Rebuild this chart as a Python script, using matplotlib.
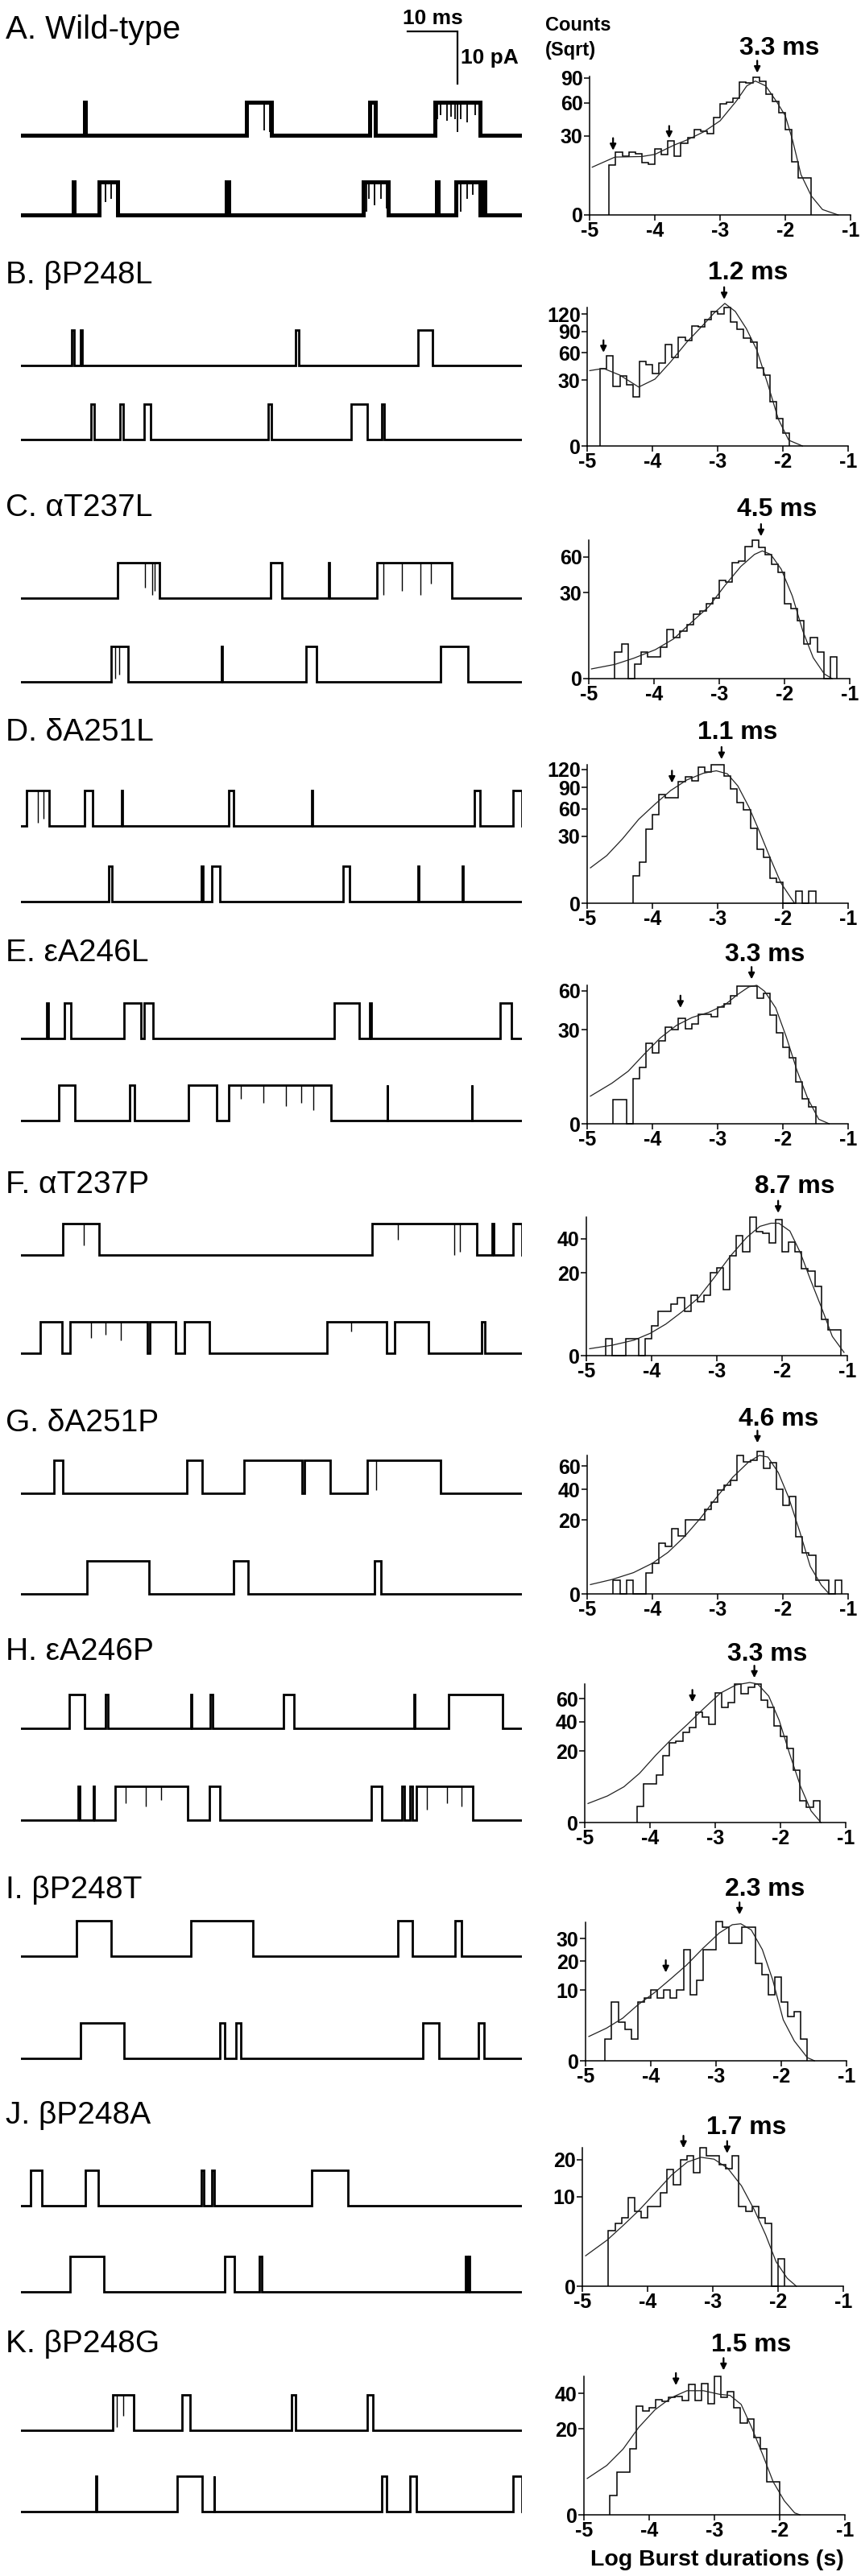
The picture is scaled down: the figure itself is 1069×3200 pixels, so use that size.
import numpy as np
import matplotlib.pyplot as plt

plt.rcParams['font.family'] = ['Liberation Sans', 'DejaVu Sans']

W, H = 1069, 3200

# ---- text ----
row_labels = ['A. Wild-type', 'B. βP248L', 'C. αT237L', 'D. δA251L', 'E. εA246L',
              'F. αT237P', 'G. δA251P', 'H. εA246P', 'I. βP248T', 'J. βP248A', 'K. βP248G']
tau_labels = ['3.3 ms', '1.2 ms', '4.5 ms', '1.1 ms', '3.3 ms', '8.7 ms', '4.6 ms',
              '3.3 ms', '2.3 ms', '1.7 ms', '1.5 ms']
tau_label_x = [-2.09, -2.54, -2.11, -2.70, -2.27, -1.81, -2.06, -2.20, -2.25, -2.48, -2.44]

# ---- histograms: first bin edge (log s), bins 0.1 wide, counts ----
bin_start = [-4.7, -4.8, -4.6, -4.3, -4.6, -4.7, -4.6, -4.2, -4.7, -4.6, -4.6]
counts_a = [11.8, 18.8, 16.3, 18.8, 18, 13.1, 12.2, 20.7, 17.5, 26.1, 16.4, 24.6, 28.7, 34.9,
            33.2, 31.5, 45.3, 58.6, 60.9, 65.4, 84.7, 83.6, 90.9, 85.7, 70, 61.5, 49.9, 34.7,
            13.5, 6.5, 6.5]
counts_b = [41.4, 55.8, 24.3, 33.8, 26.1, 16.4, 48.8, 45.7, 35.9, 47.2, 70.8, 53.5, 81.5, 76.5,
            99.1, 98.2, 110, 124.7, 119.8, 132, 105.8, 93.9, 80.4, 74.5, 41.9, 34.6, 13.5, 5.2,
            1.2]
counts_c = [2.8, 4.8, 0, 0.88, 2.8, 1.87, 1.87, 3.9, 9.8, 6.8, 9.05, 11.8, 16.8, 18.7, 22.6,
            26.5, 38.9, 37.9, 54.3, 56.1, 71, 77.5, 69.6, 62.6, 52.8, 45.6, 22.9, 19.8, 13.5,
            4.8, 6.8, 2.8, 0, 1.87]
counts_d = [4.9, 11.1, 36.7, 52.5, 79.4, 75, 75, 99.5, 107, 101, 124, 116, 128.6, 128.6, 108,
            87.5, 67.9, 58.8, 37.6, 19.3, 13.9, 4.1, 2.9, 0, 0, 0.94, 0, 0.94]
counts_e = [1.97, 1.97, 0, 6.9, 10.9, 21.9, 17, 23.3, 31.9, 30.2, 37.7, 30.9, 33.9, 41, 40.6,
            39.2, 46.1, 48.8, 55.6, 64.6, 64.6, 64.6, 53.5, 57.4, 39.9, 28.1, 20, 14.9, 6, 2.07,
            1.0]
counts_f = [0.82, 0, 0, 0.82, 0.82, 0, 0.82, 2.64, 5.67, 5.67, 7.84, 9.8, 5.67, 10.7, 8.5, 10.7,
            20, 22.7, 12.6, 29.1, 42.1, 31.4, 56.1, 45, 43.8, 37.2, 54.4, 31.4, 37.9, 31.4, 22,
            21.1, 13.9, 3.85, 1.89, 1.89]
counts_g = [0.66, 0, 0.66, 0, 0, 1.66, 3.45, 9.5, 8.4, 15.5, 12.3, 20.3, 20.3, 20.3, 26.3, 30.8,
            39.8, 43.4, 47.3, 70.4, 64.2, 65.7, 74.6, 58.2, 63.3, 40.3, 28.7, 35.1, 12, 6.3, 5.4,
            0.66, 0.66, 0, 0.66]
counts_h = [1.0, 5.9, 5.9, 8.95, 17.4, 24.8, 26.1, 31.8, 35.1, 48, 43.4, 37.9, 65.7, 52.1, 56.2,
            75.3, 65.1, 72, 75.3, 58.8, 51.8, 36.3, 29.3, 21.7, 10.7, 1.9, 0.9, 1.9]
counts_i = [0.97, 6.9, 3.0, 1.94, 0.97, 6.9, 8, 10, 8, 10, 8, 10, 24.9, 8.8, 13.1, 24.9, 24.9,
            39, 36.1, 28, 28, 36.1, 36.1, 19.1, 14.8, 8.8, 14.1, 6.9, 4, 4.9, 0.97]
counts_j = [3.87, 4.96, 5.9, 9.9, 6.97, 5.9, 7.9, 7.9, 10.96, 17, 12.95, 19.9, 21.2, 16.1, 23.9,
            21.2, 21.2, 18.4, 17.2, 21.2, 8, 6.97, 8, 5.9, 4.96, 0, 0.92]
counts_k = [1.03, 4.9, 4.9, 11.9, 32.2, 29.1, 31, 35.9, 34.7, 37.6, 38.1, 35.2, 46, 35.2, 46.7,
            33.5, 51.9, 37.6, 41.1, 31, 22.9, 25, 16.1, 11.9, 2.97, 2.97]

# ---- fitted curves, read point by point ----
fit_a_x = [-4.96, -4.61, -4.2, -4.0, -3.7, -3.5, -3.25, -3.0, -2.75, -2.59, -2.46, -2.3, -2.13,
           -2.0, -1.89, -1.76, -1.6, -1.43, -1.19]
fit_a_y = [10.9, 16.0, 16.3, 17.5, 23.4, 27.0, 33.0, 42.3, 62.0, 79.6, 85.7, 79.6, 61.0, 47.0,
           27.0, 7.8, 1.7, 0.14, 0.0]
fit_b_x = [-4.96, -4.75, -4.5, -4.21, -3.96, -3.72, -3.47, -3.22, -3.06, -2.89, -2.73, -2.56,
           -2.4, -2.23, -2.07, -1.91, -1.7]
fit_b_y = [39.1, 41.4, 34.6, 23.9, 30.8, 48.8, 74.5, 101, 121, 139.9, 124.7, 94.8, 63.6, 26.1,
           5.0, 0.23, 0.0]
fit_c_x = [-4.96, -4.6, -4.31, -3.98, -3.7, -3.41, -3.16, -2.91, -2.67, -2.46, -2.34, -2.21,
           -2.05, -1.88, -1.72, -1.56, -1.39, -1.27]
fit_c_y = [0.38, 0.82, 1.69, 3.4, 6.4, 13.3, 21, 35.4, 51, 62.6, 66.2, 62.6, 48.6, 27.7, 9.3,
           1.78, 0.09, 0.0]
fit_d_x = [-4.95, -4.7, -4.46, -4.21, -3.96, -3.72, -3.47, -3.22, -3.02, -2.85, -2.69, -2.52,
           -2.36, -2.19, -2.03, -1.86, -1.82]
fit_d_y = [8.4, 15.2, 27.7, 47.2, 65.8, 85.2, 102, 113.3, 117.6, 112.3, 92.2, 61.9, 34.6, 13.3,
           2.76, 0.09, 0.0]
fit_e_x = [-4.95, -4.62, -4.37, -4.13, -3.88, -3.63, -3.39, -3.14, -2.89, -2.69, -2.52, -2.4,
           -2.28, -2.11, -1.95, -1.78, -1.62, -1.45, -1.29]
fit_e_y = [2.6, 5.6, 9.4, 16.3, 25, 32.9, 38.4, 42.1, 48, 56.9, 63.7, 65.1, 59.6, 45.6, 25.9, 9.4,
           2.2, 0.07, 0.0]
fit_f_x = [-4.95, -4.6, -4.27, -4.02, -3.78, -3.53, -3.28, -3.04, -2.79, -2.54, -2.34, -2.17,
           -2.05, -1.88, -1.72, -1.56, -1.39, -1.23, -1.05]
fit_f_y = [0.14, 0.32, 0.7, 1.46, 2.92, 5.67, 9.8, 17.8, 29.1, 41, 48.9, 51.3, 51.3, 45.4, 31,
           16.5, 6.5, 1.08, 0.03]
fit_g_x = [-4.95, -4.62, -4.29, -4.0, -3.76, -3.51, -3.26, -3.02, -2.77, -2.52, -2.36, -2.23,
           -2.07, -1.91, -1.74, -1.58, -1.41, -1.29]
fit_g_y = [0.32, 0.76, 1.66, 3.45, 6.35, 12, 21.2, 34, 49.9, 64.2, 70.4, 68.8, 54, 34, 14.1,
           2.78, 0.28, 0.0]
fit_h_x = [-4.95, -4.65, -4.4, -4.16, -3.91, -3.66, -3.42, -3.17, -2.92, -2.68, -2.47, -2.35,
           -2.18, -2.02, -1.86, -1.69, -1.53, -1.38]
fit_h_y = [1.42, 2.78, 5, 9.5, 17.8, 27.7, 38.1, 51.3, 65.7, 74.3, 76.9, 75.3, 62.7, 41, 18.6, 5,
           0.52, 0.0]
fit_i_x = [-4.95, -4.68, -4.43, -4.19, -3.94, -3.69, -3.45, -3.2, -2.95, -2.75, -2.62, -2.46,
           -2.29, -2.13, -1.97, -1.8, -1.6, -1.49]
fit_i_y = [1.19, 2.14, 3.66, 6.4, 9.4, 13.6, 18.5, 25.5, 32.9, 37.3, 37.8, 34.5, 24.9, 13.1, 3.4,
           0.79, 0.02, 0.0]
fit_j_x = [-4.95, -4.62, -4.37, -4.13, -3.88, -3.63, -3.39, -3.18, -2.98, -2.77, -2.56, -2.36,
           -2.19, -2.03, -1.86, -1.72]
fit_j_y = [1.16, 2.66, 4.66, 7.22, 10.96, 15.5, 19.3, 20.8, 20.2, 17.4, 12.6, 7.2, 3.3, 0.75,
           0.08, 0.0]
fit_k_x = [-4.95, -4.65, -4.4, -4.16, -3.91, -3.66, -3.42, -3.17, -2.92, -2.76, -2.59, -2.43,
           -2.26, -2.1, -1.93, -1.77, -1.69]
fit_k_y = [3.58, 6.6, 11.7, 20.7, 29.9, 37.2, 41.7, 41.7, 39.3, 38.6, 33, 20.7, 9.8, 2.97, 0.54,
           0.01, 0.0]

# ---- arrows (x, tip value) ----
arrows_a = [(-4.64, 19.9), (-3.78, 28.1), (-2.43, 96.3)]
arrows_b = [(-4.75, 60.1), (-2.90, 147.8)]
arrows_c = [(-2.36, 82.1)]
arrows_d = [(-3.70, 97.0), (-2.94, 138.9)]
arrows_e = [(-3.57, 45.6), (-2.48, 70.9)]
arrows_f = [(-2.06, 59.5)]
arrows_g = [(-2.39, 83.7)]
arrows_h = [(-3.35, 56.8), (-2.40, 82.0)]
arrows_i = [(-3.77, 15.7), (-2.64, 43.0)]
arrows_j = [(-3.45, 23.9), (-2.78, 22.1)]
arrows_k = [(-3.59, 45.4), (-2.86, 56.5)]

yticks_list = [[0, 30, 60, 90], [0, 30, 60, 90, 120], [0, 30, 60], [0, 30, 60, 90, 120],
               [0, 30, 60], [0, 20, 40], [0, 20, 40, 60], [0, 20, 40, 60], [0, 10, 20, 30],
               [0, 10, 20], [0, 20, 40]]
ytop_list = [91.6, 132, 77.8, 128.6, 65.1, 56.1, 70.4, 75.2, 38.6, 24.0, 51.9]

# ---- single channel traces: openings (start ms, end ms), two sweeps per row ----
trace_a1 = [(12.75, 12.95), (45.1, 50.0), (69.6, 70.8), (82.6, 91.6)]
trace_a2 = [(10.5, 10.7), (15.7, 19.3), (41.1, 41.6), (68.4, 73.4), (82.9, 83.3), (86.8, 91.6),
            (92.3, 92.6)]
trace_b1 = [(10.2, 10.7), (12.0, 12.3), (54.8, 55.5), (79.2, 82.1)]
trace_b2 = [(14.0, 14.7), (19.9, 20.5), (24.6, 26.0), (49.4, 50.0), (65.9, 69.2), (72.1, 72.5)]
trace_c1 = [(19.4, 27.7), (49.8, 52.1), (61.4, 61.6), (71.1, 86.0)]
trace_c2 = [(18.1, 21.5), (40.0, 40.2), (56.9, 59.0), (83.8, 89.2)]
trace_d1 = [(1.2, 5.7), (12.8, 14.4), (20.2, 20.4), (41.5, 42.5), (58.0, 58.2), (90.6, 91.6),
            (98.2, 100.0)]
trace_d2 = [(17.6, 18.2), (36.1, 36.4), (38.2, 39.7), (64.3, 65.7), (79.2, 79.4), (88.1, 88.3)]
trace_e1 = [(5.3, 5.6), (8.7, 10.0), (20.7, 24.0), (24.7, 26.4), (62.6, 67.6), (69.7, 69.9),
            (95.7, 97.9)]
trace_e2 = [(7.6, 10.9), (21.7, 22.8), (33.5, 39.1), (41.5, 62.0), (73.1, 73.2), (90.0, 90.1)]
trace_f1 = [(8.4, 15.6), (70.1, 91.0), (94.0, 94.4), (98.3, 100.0)]
trace_f2 = [(3.9, 8.2), (9.8, 25.3), (25.8, 31.0), (32.7, 37.6), (61.1, 73.0), (74.6, 81.4),
            (92.0, 92.6)]
trace_g1 = [(6.7, 8.5), (33.1, 36.2), (44.6, 56.1), (56.6, 61.8), (69.1, 83.8)]
trace_g2 = [(13.3, 25.7), (42.5, 45.4), (70.6, 71.9)]
trace_h1 = [(9.7, 12.7), (16.9, 17.4), (34.0, 34.2), (37.9, 38.3), (52.5, 54.6), (78.5, 78.6),
            (85.4, 96.1)]
trace_h2 = [(11.5, 11.8), (14.5, 14.7), (18.9, 33.3), (37.7, 39.7), (69.9, 72.1), (76.1, 76.5),
            (77.7, 78.2), (78.9, 90.2)]
trace_i1 = [(11.2, 18.0), (34.0, 46.3), (75.2, 78.1), (86.7, 87.9)]
trace_i2 = [(12.0, 20.7), (39.8, 40.8), (43.0, 44.0), (80.3, 83.5), (91.3, 92.5)]
trace_j1 = [(2.0, 4.2), (13.0, 15.5), (36.1, 36.5), (38.2, 38.7), (58.1, 65.3)]
trace_j2 = [(9.9, 16.6), (40.8, 42.6), (47.6, 48.1), (88.7, 89.1), (89.4, 89.6)]
trace_k1 = [(18.4, 22.5), (32.2, 33.8), (54.0, 54.8), (69.2, 70.3)]
trace_k2 = [(15.1, 15.2), (31.3, 36.2), (38.6, 38.7), (72.0, 73.0), (77.7, 78.9), (98.3, 100.0)]

# brief incomplete closures inside bursts: (time ms, fraction of the opening)
flick_a1 = [(48.6, 0.85), (49.7, 0.9), (83.2, 0.5), (83.8, 0.4), (85.1, 0.55), (85.9, 0.45),
            (86.7, 0.5), (87.2, 0.9), (87.8, 0.5), (89.1, 0.6), (90.7, 0.4)]
flick_a2 = [(16.9, 0.6), (18.0, 0.5), (69.0, 0.9), (69.5, 0.5), (70.6, 0.7), (71.9, 0.5),
            (73.0, 0.8), (87.8, 0.9), (89.1, 0.5), (90.2, 0.4)]
flick_c1 = [(24.75, 0.7), (26.25, 0.9), (26.75, 0.8), (72.3, 0.9), (76.05, 0.8), (79.7, 0.9),
            (81.8, 0.6)]
flick_c2 = [(18.9, 0.9), (19.65, 0.8)]
flick_d1 = [(3.5, 0.9), (4.6, 0.8)]
flick_e2 = [(44.0, 0.4), (48.4, 0.5), (53.0, 0.6), (56.0, 0.5), (58.4, 0.7)]
flick_f1 = [(12.65, 0.7), (75.2, 0.5), (86.55, 1.0), (87.7, 0.9)]
flick_f2 = [(14.0, 0.5), (17.0, 0.4), (20.0, 0.6), (66.0, 0.3)]
flick_g1 = [(71.0, 0.9)]
flick_h2 = [(21.0, 0.5), (25.0, 0.6), (28.0, 0.4), (81.0, 0.7), (85.0, 0.5), (88.0, 0.6)]
flick_k1 = [(19.25, 0.9), (20.5, 0.6)]

amp_pa = [6.3, 6.8, 6.8, 6.8, 6.8, 6.0, 6.3, 6.5, 6.8, 6.8, 6.8]

counts = [counts_a, counts_b, counts_c, counts_d, counts_e, counts_f, counts_g, counts_h,
          counts_i, counts_j, counts_k]
fits = [(fit_a_x, fit_a_y), (fit_b_x, fit_b_y), (fit_c_x, fit_c_y), (fit_d_x, fit_d_y),
        (fit_e_x, fit_e_y), (fit_f_x, fit_f_y), (fit_g_x, fit_g_y), (fit_h_x, fit_h_y),
        (fit_i_x, fit_i_y), (fit_j_x, fit_j_y), (fit_k_x, fit_k_y)]
arrows = [arrows_a, arrows_b, arrows_c, arrows_d, arrows_e, arrows_f, arrows_g, arrows_h,
          arrows_i, arrows_j, arrows_k]
traces = [(trace_a1, trace_a2), (trace_b1, trace_b2), (trace_c1, trace_c2), (trace_d1, trace_d2),
          (trace_e1, trace_e2), (trace_f1, trace_f2), (trace_g1, trace_g2), (trace_h1, trace_h2),
          (trace_i1, trace_i2), (trace_j1, trace_j2), (trace_k1, trace_k2)]
flickers = [(flick_a1, flick_a2), ([], []), (flick_c1, flick_c2), (flick_d1, []), ([], flick_e2),
            (flick_f1, flick_f2), (flick_g1, []), ([], flick_h2), ([], []), ([], []),
            (flick_k1, [])]

# ---- layout (pixels) ----
zero_px = [267, 554, 843, 1122, 1396, 1684, 1980, 2264, 2560, 2840, 3124]
hist_left_px = [732, 729, 731, 729, 729, 728, 729, 726, 727, 723, 725]
ms_dy_px = [35, 43, 38, 40, 38, 38, 45, 37, 41, 25, 39]
sweep1_px = [-99, -100, -100, -96, -106, -125, -125, -117, -130, -100, -105]
sweep2_px = [0, -8, 4, -2, -4, -3, 0, -3, -3, 7, -4]
PX_PER_PA = 6.5


def px_rect(left, top, width, height):
    return [left / W, 1 - (top + height) / H, width / W, height / H]


def step_trace(events, amp, t_end=100.0):
    xs, ys = [0.0], [0.0]
    for s, e in events:
        xs += [s, s, e, e]
        ys += [0.0, amp, amp, 0.0]
    xs.append(t_end)
    ys.append(0.0)
    return xs, ys


fig = plt.figure(figsize=(W / 100, H / 100), dpi=100)

for i in range(11):
    z = zero_px[i]

    # row label
    fig.text(7 / W, 1 - (z - (230 if i == 0 else 212)) / H, row_labels[i],
             fontsize=29 if i == 0 else 28, ha='left', va='center')

    # two sweeps
    for j, offset in enumerate((sweep1_px[i], sweep2_px[i])):
        base = z + offset
        ax = fig.add_axes(px_rect(25.5, base - 80, 622.5, 100))
        ax.set_xlim(0, 100)
        ax.set_ylim(-20 / PX_PER_PA, 80 / PX_PER_PA)
        ax.axis('off')
        amp = amp_pa[i]
        lw = 3.6 if i == 0 else 2.0
        xs, ys = step_trace(traces[i][j], amp)
        ax.plot(xs, ys, color='k', lw=lw, solid_joinstyle='miter')
        fl = flickers[i][j]
        if fl:
            ax.vlines([t for t, d in fl], [amp * (1 - d) for t, d in fl], amp, color='k',
                      lw=1.3 if i == 0 else 1.0)
        if i == 0 and j == 0:
            # scale bar 10 ms / 10 pA
            ax.plot([77.2, 87.2, 87.2], [19.8, 19.8, 9.8], color='k', lw=1.6,
                    clip_on=False, solid_joinstyle='miter')
            ax.annotate('10 ms', xy=(82.2, 19.8), xytext=(0, 3), textcoords='offset points',
                        ha='center', va='bottom', fontsize=19, fontweight='bold',
                        annotation_clip=False)
            ax.annotate('10 pA', xy=(87.2, 14.8), xytext=(3, 0), textcoords='offset points',
                        ha='left', va='center', fontsize=19, fontweight='bold',
                        annotation_clip=False)

    # burst duration histogram
    hx = fig.add_axes(px_rect(hist_left_px[i], z - 172, 324, 172))
    hx.set_yscale('function', functions=(lambda v: np.sqrt(np.clip(v, 0, None)), np.square))
    edges = bin_start[i] + 0.1 * np.arange(len(counts[i]) + 1)
    hx.stairs(counts[i], edges, baseline=0, color='k', lw=1.1, clip_on=False)
    hx.plot(fits[i][0], fits[i][1], color='#222222', lw=0.9, clip_on=False)
    hx.set_xlim(-5, -1)
    hx.set_ylim(0, ytop_list[i])
    hx.set_xticks([-5, -4, -3, -2, -1])
    hx.set_yticks(yticks_list[i])
    hx.set_xticklabels(['-5', '-4', '-3', '-2', '-1'])
    hx.set_yticklabels([str(v) for v in yticks_list[i]])
    for s in ('top', 'right'):
        hx.spines[s].set_visible(False)
    for s in ('left', 'bottom'):
        hx.spines[s].set_linewidth(1.1)
    hx.tick_params(direction='out', length=5, width=1.1, labelsize=18, pad=1)
    for lab in hx.get_xticklabels() + hx.get_yticklabels():
        lab.set_fontweight('bold')

    for ax_x, tip in arrows[i]:
        hx.annotate('', xy=(ax_x, tip), xytext=(0, 11), textcoords='offset points',
                    arrowprops=dict(arrowstyle='-|>', color='k', lw=1.6, mutation_scale=11,
                                    shrinkA=0, shrinkB=0),
                    annotation_clip=False)

    hx.annotate(tau_labels[i], xy=(tau_label_x[i], 1), xycoords=('data', 'axes fraction'),
                xytext=(0, ms_dy_px[i] * 0.72), textcoords='offset points', ha='center',
                va='center', fontsize=23, fontweight='bold', annotation_clip=False)

fig.text(677 / W, 1 - 32 / H, 'Counts', fontsize=17, fontweight='bold', ha='left', va='center')
fig.text(677 / W, 1 - 62 / H, '(Sqrt)', fontsize=17, fontweight='bold', ha='left', va='center')
fig.text(890 / W, 1 - 3180 / H, 'Log Burst durations (s)', fontsize=20.5, fontweight='bold',
         ha='center', va='center')

fig.savefig('out.png', dpi=100)
